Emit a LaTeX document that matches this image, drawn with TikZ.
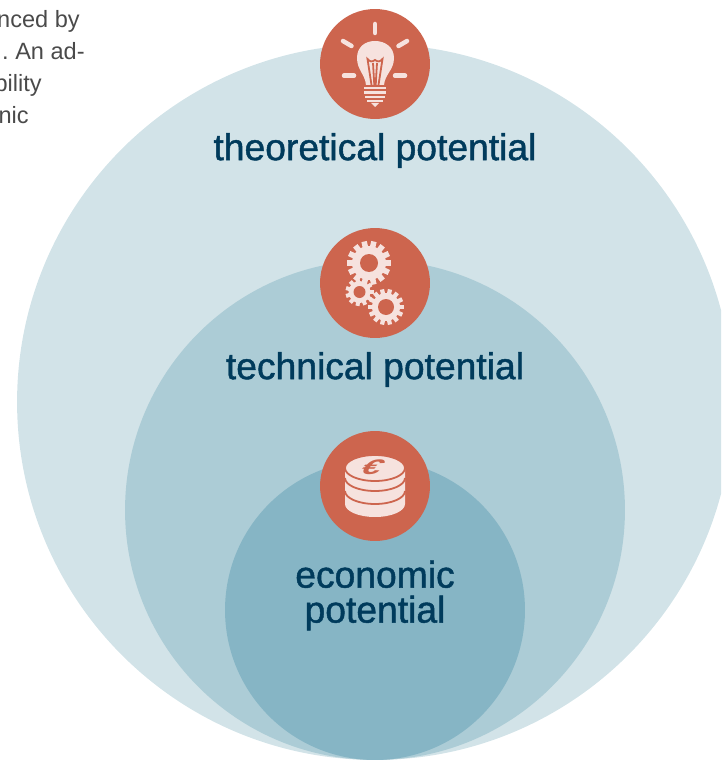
\documentclass[tikz,border=0pt]{standalone}
\usepackage{fontspec}
\setmainfont{Liberation Sans}
\newfontfamily\levelfont[FakeBold=1.2]{Liberation Sans}
\definecolor{zonea}{HTML}{D2E3E8}
\definecolor{zoneb}{HTML}{ACCCD6}
\definecolor{zonec}{HTML}{86B5C5}
\definecolor{badge}{HTML}{CD654E}
\definecolor{iconpale}{HTML}{F6E2DE}
\definecolor{labelblue}{HTML}{003B5C}
\definecolor{bodygrey}{HTML}{4A4A4A}
\tikzstyle{zone}=[circle,inner sep=0pt]
\tikzstyle{badgedisc}=[circle,fill=badge,minimum size=2.2cm,inner sep=0pt]
\tikzstyle{level}=[text=labelblue,align=center,font=\levelfont\fontsize{21.2}{20}\selectfont]
\tikzstyle{bodytext}=[text=bodygrey,anchor=base east,inner sep=0pt,font=\frenchspacing\fontsize{13.4}{16}\selectfont]
\tikzstyle{ray}=[draw=iconpale,line width=0.09cm,line cap=round]
\tikzstyle{wire}=[draw=badge,line width=0.036cm]
\tikzstyle{pale}=[fill=iconpale]
\tikzstyle{cut}=[fill=badge]

\begin{document}
\begin{tikzpicture}[x=0.02cm,y=-0.02cm]
    \useasboundingbox (0,0) rectangle (721,760);
    \clip (0,0) rectangle (721,760);
    % First we draw the three nested zones
    \foreach \pos/\name/\shade/\dia in {{(375,402)/zone_a/zonea/14.32cm}, {(375,510)/zone_b/zoneb/10cm}, {(375,610)/zone_c/zonec/6cm}}
        \node[zone,fill=\shade,minimum size=\dia] (\name) at \pos {};

    % Text block cut off at the left edge
    \foreach \pos/\name/\line in {{(80,28)/body_a/nced by}, {(85,60)/body_b/. An ad-}, {(42,92)/body_c/bility}, {(29,124)/body_d/nic}}
        \node[bodytext] (\name) at \pos {\line};

    % Badges on top of the zones
    \foreach \pos/\name in {{(375,64)/badge_a}, {(375,283)/badge_b}, {(375,486)/badge_c}}
        \node[badgedisc] (\name) at \pos {};

    % Labels
    \node[level] (label_a) at (375,150.5) {theoretical potential};
    \node[level] (label_b) at (375,369.5) {technical potential};
    \node[level] (label_c) at (375,595.5) {economic\\[-0.1pt]potential};

    % Light bulb
    \foreach \a/\b in {{(375,24)/(375,33)}, {(343,41)/(351.5,46)}, {(407,41)/(398.5,46)}, {(344,75.7)/(354,75.7)}, {(395,75.7)/(405,75.7)}}
        \draw[ray] \a -- \b;
    \fill[pale] (366,85) .. controls (365,74) and (357,70) .. (357,58)
        .. controls (357,47) and (365,41) .. (375,41)
        .. controls (385,41) and (394,47) .. (394,58)
        .. controls (394,70) and (385,74) .. (384,85) -- cycle;
    \draw[wire] (371.5,85) -- (367.5,59) .. controls (370,62) and (372,62) .. (375,60) .. controls (378,62) and (380,62) .. (382.5,59) -- (378.5,85);
    \draw[wire] (374.3,85) -- (373,63) (375.7,85) -- (377,63);
    \foreach \y/\w in {88/11, 92.5/11, 97/10, 101/8}
        \draw[draw=iconpale,line width=0.052cm] (375-\w,\y) -- (375+\w,\y);
    \fill[pale] (371,103) -- (379,103) -- (375,107) -- cycle;

    % Gears
    \foreach \cx/\cy/\rout/\rin/\hole/\teeth/\tw in {369/263/22/17/9/14/0.11cm, 386/307/18/14/8/14/0.085cm, 359.5/292/14/11/6/11/0.08cm}{
        \foreach \k in {1,...,\teeth}
            \draw[draw=iconpale,line width=\tw] (\cx,\cy) -- ({\cx+\rout*cos(\k*360/\teeth)},{\cy+\rout*sin(\k*360/\teeth)});
        \fill[pale] (\cx,\cy) circle[radius=\rin];
        \fill[cut] (\cx,\cy) circle[radius=\hole];
    }

    % Coins
    \fill[pale] (345,468) -- (345,504) arc[start angle=180,end angle=0,x radius=30,y radius=13] -- (405,468) -- cycle;
    \foreach \y in {478,491}
        \draw[wire] (345,\y) arc[start angle=180,end angle=0,x radius=30,y radius=13];
    \draw[wire,fill=iconpale] (375,468) ellipse[x radius=30,y radius=13];
    \node[text=badge,inner sep=0pt,font=\fontsize{20}{20}\bfseries\selectfont,xslant=0.7,yscale=0.6] (euro) at (373,467.5) {€};
\end{tikzpicture}
\end{document}
